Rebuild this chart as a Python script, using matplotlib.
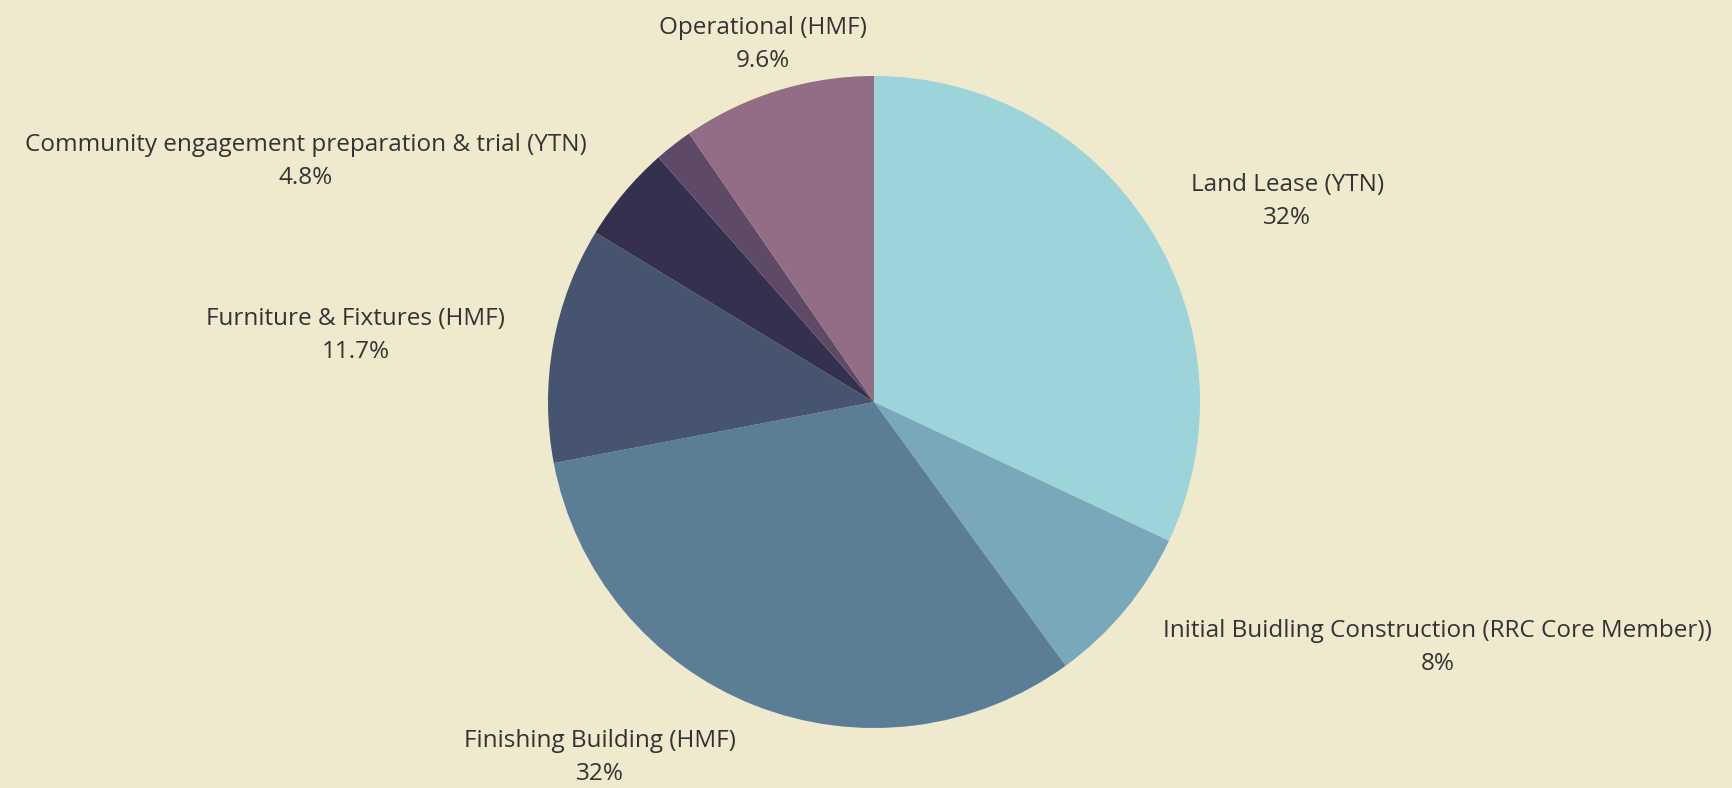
import numpy as np
import matplotlib.pyplot as plt

# slice data, clockwise from 12 o'clock
labels = ['Land Lease (YTN)',
          'Initial Buidling Construction (RRC Core Member))',
          'Finishing Building (HMF)',
          'Furniture & Fixtures (HMF)',
          'Community engagement preparation & trial (YTN)',
          '',
          'Operational (HMF)']
shares = [32, 8, 32, 11.7, 4.8, 1.9, 9.6]
colors = ['#9dd4d9', '#78a8ba', '#5c7d96', '#465470', '#34304d', '#5e4a66', '#936c85']

bg = '#efe9ce'
plt.rcParams['font.family'] = ['Open Sans', 'DejaVu Sans']

fig = plt.figure(figsize=(17.32, 7.88), dpi=100, facecolor=bg)
ax = fig.add_axes([0, 0, 1, 1])
ax.set_facecolor(bg)

wedges, _ = ax.pie(shares, colors=colors, startangle=90, counterclock=False,
                   radius=1, wedgeprops=dict(linewidth=0))

# pie centre ~ (874, 402) px, radius ~326 px
r_px = 326
ax.set_aspect('auto')
ax.set_xlim(-874 / r_px, (1732 - 874) / r_px)
ax.set_ylim(-(788 - 402) / r_px, 402 / r_px)
ax.axis('off')

# label placement: just outside the rim, anchored by side
for w, lab, v in zip(wedges, labels, shares):
    if not lab:
        continue
    ang = np.deg2rad((w.theta1 + w.theta2) / 2)
    x, y = 1.15 * np.cos(ang), 1.15 * np.sin(ang)
    if abs(np.cos(ang)) < 0.35:
        ha = 'center'
    elif x > 0:
        ha = 'left'
    else:
        ha = 'right'
    if y < 0:
        y -= 0.02  # lower labels sit a touch further out
    ax.text(x, y, f'{lab}\n{v:g}%', ha=ha, va='center', multialignment='center',
            fontsize=17.5, color='#333333', linespacing=1.5)

fig.savefig('out.png', dpi=100, facecolor=bg)
